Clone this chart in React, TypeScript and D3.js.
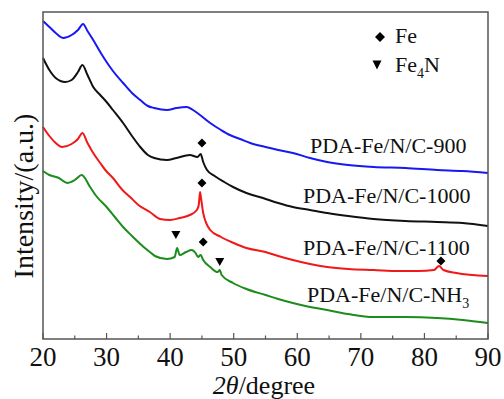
import React from "react";
import * as d3 from "d3";

type P = [number, number];

// 2θ (degree), intensity (a.u.)
const s900: P[] = [
  [20, 318], [21, 312], [22, 306], [23.2, 301], [24.5, 304], [25.5, 309], [26.3, 315], [27, 308],
  [27.9, 299], [29, 287], [30, 277], [31, 268], [32.6, 256], [34, 246], [35.3, 239], [36.5, 233],
  [37.5, 231], [39.5, 229], [41, 231], [42.6, 232], [43.6, 229], [44.7, 224], [46.3, 216], [48, 209],
  [49.4, 204], [51, 200], [52.6, 196], [55, 192], [57, 189], [59.3, 186], [62, 181], [64.7, 177],
  [68, 174], [72, 172], [77, 171], [82, 169], [86, 168], [90, 166],
];
const s1000: P[] = [
  [20, 281], [21, 269], [22, 261], [23.5, 257], [24.5, 259], [25.5, 267], [26.2, 274], [27, 264],
  [27.9, 252], [29, 244], [30, 237], [31, 229], [32.6, 216], [34, 203], [35.3, 192], [36.5, 184],
  [37.5, 181], [39.5, 179], [41, 181], [43.1, 184], [44.3, 182], [44.8, 185], [45.2, 177], [45.8, 169],
  [47, 163], [48.5, 157], [49.9, 152], [52, 146], [54.6, 141], [57, 136], [59.3, 132], [62, 129],
  [64.7, 126], [68, 123], [72, 120], [77, 118], [82, 117], [86, 116], [90, 113],
];
const s1100: P[] = [
  [20, 212], [21, 203], [22, 196], [23, 192], [24.5, 195], [25.5, 200], [26.2, 206], [27, 196],
  [27.9, 186], [29, 176], [29.8, 169], [31, 161], [32.5, 149], [33.7, 142], [35, 134], [36.8, 127],
  [38.4, 120], [40, 119], [41.5, 121], [43.1, 124], [44.2, 129], [44.5, 134], [44.7, 147], [44.9, 139],
  [45.2, 126], [46.3, 109], [48, 102], [50, 96], [52, 91], [55, 87], [57, 83], [59.3, 79], [62, 75],
  [64.7, 72], [68, 70], [72, 69], [76, 68], [79, 68], [81.5, 69], [82.3, 73], [83, 69], [85, 66], [90, 63],
];
const sNH3: P[] = [
  [20, 168], [21, 164], [22.5, 161], [23.8, 156], [25, 159], [26.1, 164], [27.4, 152], [28.5, 142],
  [30, 132], [31.3, 122], [32.6, 112], [34, 103], [35.3, 95], [36.8, 87], [37.6, 83], [39.5, 80],
  [40.7, 82], [41.1, 91], [41.5, 84], [42.5, 87], [43.4, 89], [44.0, 86], [44.4, 82], [44.8, 84],
  [45.2, 79], [46.3, 72], [47.5, 67], [47.8, 69], [48.1, 64], [49.9, 56], [52, 50], [55, 44],
  [57, 40], [59.3, 36], [62, 32], [64.7, 29], [68, 25], [72, 22], [77, 22], [82, 21], [86, 19], [90, 16],
];

const feMarks: P[] = [[45.0, 196], [45.0, 156], [45.2, 97], [82.6, 78]];
const fe4nMarks: P[] = [[40.9, 104], [47.8, 77]];

const xTicks = [20, 30, 40, 50, 60, 70, 80, 90];
const xMinor = [25, 35, 45, 55, 65, 75, 85];

const W = 504, H = 399;
const L = 43, R = 488, T = 12, B = 339;

export default function App() {
  const x = d3.scaleLinear().domain([20, 90]).range([L, R]);
  const y = d3.scaleLinear().domain([0, 327]).range([B, T]);
  const line = d3.line<P>().x(d => x(d[0])).y(d => y(d[1])).curve(d3.curveMonotoneX);
  const series = [
    { data: s900, color: "#1818f2" },
    { data: s1000, color: "#111111" },
    { data: s1100, color: "#f01818" },
    { data: sNH3, color: "#1c8c1c" },
  ];
  const diamond = (cx: number, cy: number, r: number) =>
    `M${cx},${cy - r}L${cx + r},${cy}L${cx},${cy + r}L${cx - r},${cy}Z`;
  const tri = (cx: number, cy: number, w: number, h: number) =>
    `M${cx - w / 2},${cy - h / 2}L${cx + w / 2},${cy - h / 2}L${cx},${cy + h / 2}Z`;
  const font = "'Liberation Serif', 'Times New Roman', serif";
  return (
    <svg width={W} height={H} style={{ position: "absolute", left: 0, top: 0, background: "#fff" }}
      fontFamily={font}>
      <rect x={0} y={0} width={W} height={H} fill="#fff" />
      {series.map((s, i) => (
        <path key={i} d={line(s.data) || ""} fill="none" stroke={s.color} strokeWidth={2}
          strokeLinejoin="round" />
      ))}
      {feMarks.map((m, i) => (
        <path key={"fe" + i} d={diamond(x(m[0]), y(m[1]), 4.5)} fill="#000" />
      ))}
      {fe4nMarks.map((m, i) => (
        <path key={"fn" + i} d={tri(x(m[0]), y(m[1]), 9, 8)} fill="#000" />
      ))}
      <rect x={L} y={T} width={R - L} height={B - T} fill="none" stroke="#555" strokeWidth={1.5} />
      {xTicks.map(t => (
        <g key={t}>
          <line x1={x(t)} x2={x(t)} y1={B} y2={B - 6} stroke="#555" strokeWidth={1.2} />
          <text x={x(t)} y={366} fontSize={27} textAnchor="middle" fill="#111">{t}</text>
        </g>
      ))}
      {xMinor.map(t => (
        <line key={t} x1={x(t)} x2={x(t)} y1={B} y2={B - 3.5} stroke="#555" strokeWidth={1.2} />
      ))}
      <text x={264} y={394} fontSize={26} textAnchor="middle" fill="#111">
        <tspan fontStyle="italic">2θ</tspan>/degree
      </text>
      <text transform="translate(33,196) rotate(-90)" fontSize={28} textAnchor="middle" fill="#111">
        Intensity/(a.u.)
      </text>
      <text x={310} y={153} fontSize={22} fill="#111">PDA-Fe/N/C-900</text>
      <text x={303} y={203} fontSize={22} fill="#111">PDA-Fe/N/C-1000</text>
      <text x={303} y={255} fontSize={22} fill="#111">PDA-Fe/N/C-1100</text>
      <text x={307} y={302} fontSize={22} fill="#111">
        PDA-Fe/N/C-NH<tspan fontSize={14} dy={6}>3</tspan>
      </text>
      <path d={diamond(380, 37, 5)} fill="#000" />
      <text x={395} y={43} fontSize={22} fill="#111">Fe</text>
      <path d={tri(377, 65, 9, 9)} fill="#000" />
      <text x={395} y={72} fontSize={22} fill="#111">
        Fe<tspan fontSize={14} dy={6}>4</tspan><tspan dy={-6}>N</tspan>
      </text>
    </svg>
  );
}
